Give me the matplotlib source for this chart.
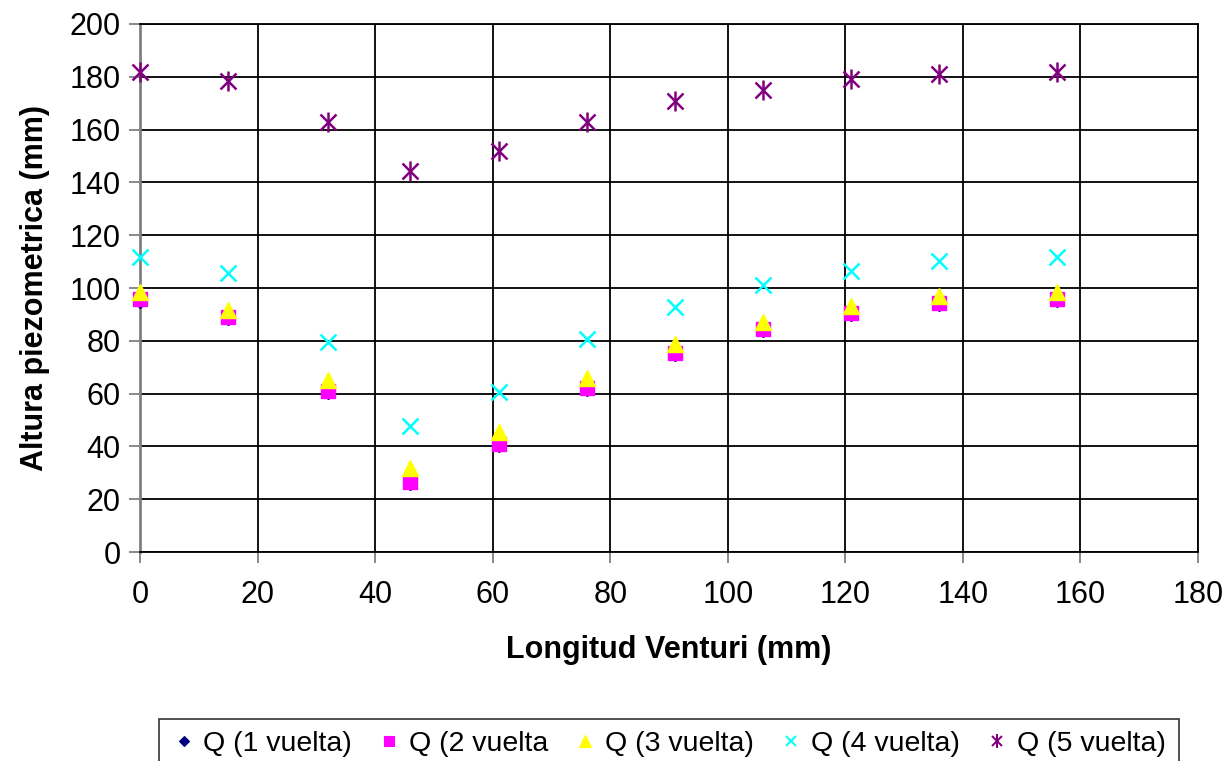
import matplotlib
matplotlib.use("Agg")
import matplotlib.pyplot as plt
from matplotlib.lines import Line2D
from matplotlib.legend_handler import HandlerTuple

plt.rcParams["font.family"] = ["Liberation Sans", "DejaVu Sans"]

# ── Data ─────────────────────────────────────────────────────
longitud = [0, 15, 32, 46, 61, 76, 91, 106, 121, 136, 156]
q1 = [95.2, 88.6, 60.6, 26.0, 40.4, 61.6, 75.0, 84.0, 90.0, 94.0, 95.4]
q2 = [95.7, 89.1, 61.0, 26.4, 40.8, 62.0, 75.5, 84.3, 90.4, 94.4, 95.8]
q3 = [98.6, 91.7, 65.2, 31.7, 45.6, 66.0, 78.8, 87.2, 93.2, 97.0, 98.6]
q4 = [111.6, 105.6, 79.5, 47.8, 60.7, 80.6, 92.7, 101.0, 106.4, 110.1, 111.6]
q5 = [181.8, 178.4, 162.9, 144.3, 151.7, 162.9, 170.8, 175.0, 179.1, 181.0, 181.9]
etiquetas = ["Q (1 vuelta)", "Q (2 vuelta", "Q (3 vuelta)", "Q (4 vuelta)", "Q (5 vuelta)"]

# marker styles: each series may stack more than one marker (asterisk = x + |)
series = [
    (q1, "#000080", [("D", 7, 1)]),
    (q2, "#FF00FF", [("s", 10, 1)]),
    (q3, "#FFFF00", [("^", 12, 1)]),
    (q4, "#00FFFF", [("x", 11, 1.8)]),
    (q5, "#800080", [("x", 11, 1.8), ("|", 14, 1.8)]),
]

fig = plt.figure(figsize=(12.32, 7.61), dpi=100)
ax = fig.add_axes([0.1136, 0.2746, 0.8588, 0.6939])

handles = []
for (vals, col, mks), lab in zip(series, etiquetas):
    parts = []
    for m, ms, mew in mks:
        ax.plot(longitud, vals, ls="none", marker=m, color=col, ms=ms, mew=mew,
                zorder=3, clip_on=False)
        parts.append(Line2D([], [], ls="none", marker=m, color=col,
                            ms=ms * 0.7, mew=mew * 0.8))
    handles.append(tuple(parts))

ax.set_xlim(0, 180)
ax.set_ylim(0, 200)
ax.set_xticks(range(0, 181, 20))
ax.set_yticks(range(0, 201, 20))
ax.grid(True, color="black", lw=1.3)
ax.set_axisbelow(True)
for s in ax.spines.values():
    s.set_color("black")
    s.set_linewidth(1.3)
ax.spines["left"].set_color("#808080")
ax.spines["left"].set_linewidth(2)
ax.tick_params(labelsize=22, length=8, width=1.3, color="#808080")
ax.tick_params(axis="x", pad=12)
ax.tick_params(axis="y", pad=6)

ax.set_xlabel("Longitud Venturi (mm)", fontsize=22, fontweight="bold", labelpad=18)
ax.set_ylabel("Altura piezometrica (mm)", fontsize=22, fontweight="bold", labelpad=14)

leg = fig.legend(handles, etiquetas, loc="upper center", bbox_to_anchor=(0.543, 0.0745),
                 ncol=5, fontsize=20.5, frameon=True, fancybox=False,
                 edgecolor="black", handlelength=0.8, handletextpad=0.3,
                 columnspacing=0.9, borderpad=0.45,
                 handler_map={tuple: HandlerTuple(ndivide=1, pad=0)})
leg.get_frame().set_linewidth(1.2)

fig.savefig("out.png", dpi=100)
